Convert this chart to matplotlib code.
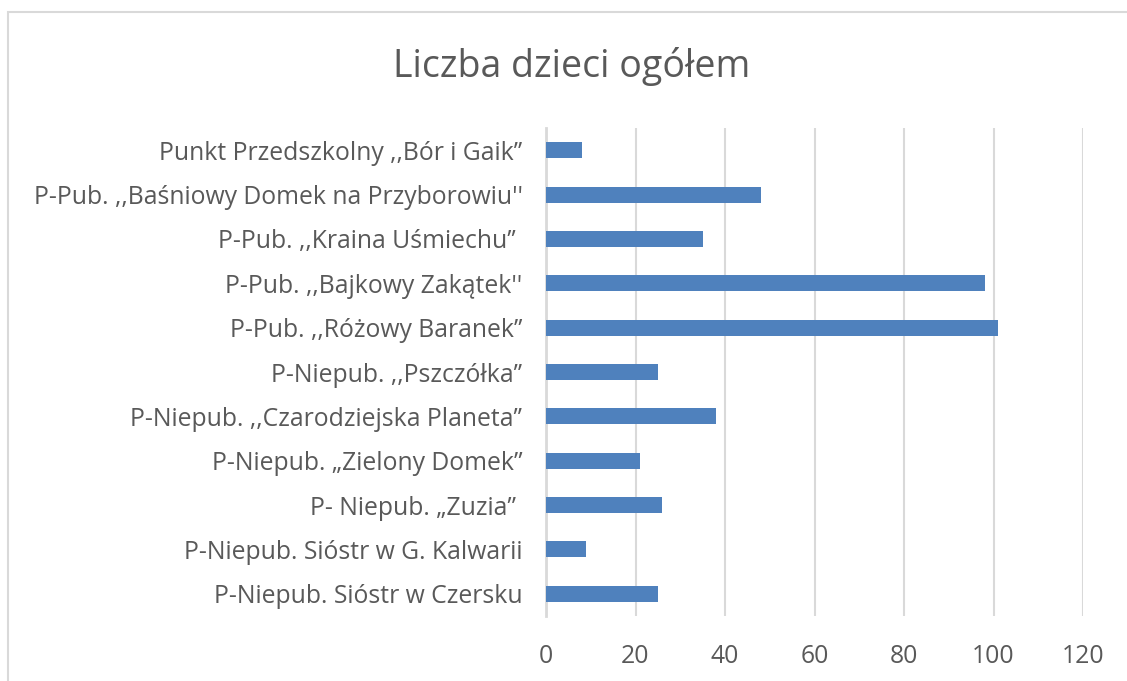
import matplotlib
matplotlib.use('Agg')
import matplotlib.pyplot as plt
from matplotlib.patches import Rectangle

# data, top to bottom as shown in the chart
labels = [
    'Punkt Przedszkolny ,,Bór i Gaik’’',
    "P-Pub. ,,Baśniowy Domek na Przyborowiu''",
    'P-Pub. ,,Kraina Uśmiechu’’ ',
    "P-Pub. ,,Bajkowy Zakątek''",
    'P-Pub. ,,Różowy Baranek’’',
    'P-Niepub. ,,Pszczółka’’',
    'P-Niepub. ,,Czarodziejska Planeta’’',
    'P-Niepub. „Zielony Domek”',
    'P- Niepub. „Zuzia” ',
    'P-Niepub. Sióstr w G. Kalwarii',
    'P-Niepub. Sióstr w Czersku',
]
values = [8, 48, 35, 98, 101, 25, 38, 21, 26, 9, 25]
xticks = [0, 20, 40, 60, 80, 100, 120]
title = 'Liczba dzieci ogółem'

text_color = '#595959'
grid_color = '#D9D9D9'
bar_color = '#4F81BD'

plt.rcParams['font.family'] = ['Open Sans', 'DejaVu Sans']

W, H = 1127, 681
fig = plt.figure(figsize=(W / 100, H / 100), dpi=100)
ax = fig.add_axes([546 / W, 1 - 616 / H, (1083 - 546) / W, (616 - 128) / H])

ypos = list(range(len(labels)))[::-1]
ax.barh(ypos, values, height=0.36, color=bar_color, zorder=3)

ax.set_xlim(0, 120)
ax.set_ylim(-0.5, len(labels) - 0.5)
ax.set_xticks(xticks)
ax.set_xticklabels([str(t) for t in xticks])
ax.set_yticks(ypos)
ax.set_yticklabels(labels)

ax.tick_params(axis='both', length=0, labelsize=17.8, colors=text_color)
ax.tick_params(axis='y', pad=17)
ax.tick_params(axis='x', pad=20)

ax.grid(axis='x', color=grid_color, linewidth=1.5, zorder=0)
for s in ['top', 'right', 'bottom']:
    ax.spines[s].set_visible(False)
ax.spines['left'].set_color(grid_color)
ax.spines['left'].set_linewidth(2)

fig.text(572 / W, 1 - 66 / H, title, ha='center', va='center',
         fontsize=27, color=text_color)

# chart area border (cropped on right and bottom)
fig.patches.append(Rectangle((7.5 / W, -0.1), 1.2, (H - 11.5) / H + 0.1,
                             transform=fig.transFigure, fill=False,
                             edgecolor=grid_color, linewidth=1.5))

fig.savefig('out.png', dpi=100, facecolor='white')
